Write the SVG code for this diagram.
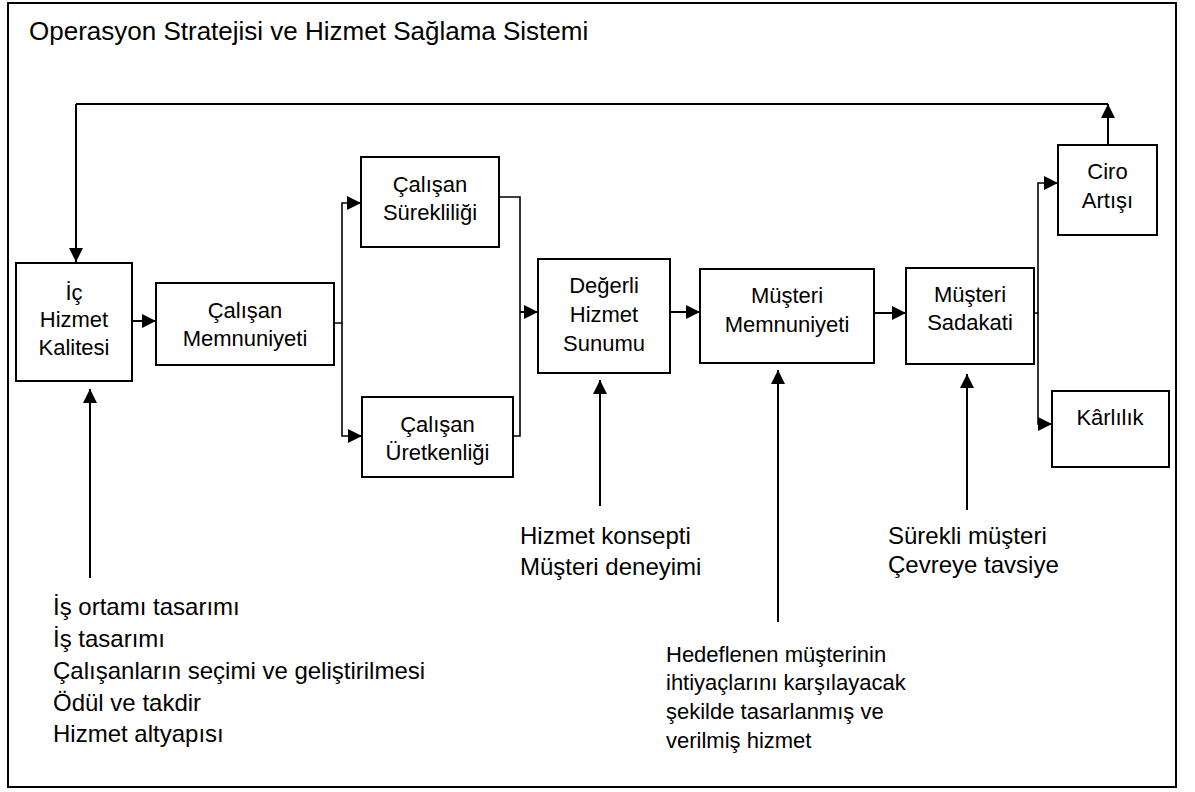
<svg xmlns="http://www.w3.org/2000/svg" width="1195" height="792" viewBox="0 0 1195 792">
<defs>
<marker id="ah" markerUnits="userSpaceOnUse" markerWidth="16" markerHeight="16" viewBox="0 0 16 16" refX="15" refY="8" orient="auto">
<path d="M1,1 L15,8 L1,15 Z" fill="#000"/>
</marker>
</defs>
<style>
.box{fill:#fff;stroke:#000;stroke-width:2}
.t{font-family:"Liberation Sans",Arial,sans-serif;font-size:22px;fill:#000;text-anchor:middle}
.l{font-family:"Liberation Sans",Arial,sans-serif;font-size:24px;fill:#000}
.s{font-family:"Liberation Sans",Arial,sans-serif;font-size:22px;fill:#000}
.c{fill:none;stroke:#000;stroke-width:2}
.c2{fill:none;stroke:#000;stroke-width:1.6}
.a{marker-end:url(#ah)}
</style>
<rect x="8" y="3" width="1168" height="784" fill="#fff" stroke="#000" stroke-width="2"/>
<text x="29" y="40" font-family="Liberation Sans, Arial, sans-serif" font-size="26">Operasyon Stratejisi ve Hizmet Sağlama Sistemi</text>

<g id="connectors">
<path class="c" d="M76,104 H1108"/>
<path class="c a" d="M1108,145 V104"/>
<path class="c a" d="M76,104 V262"/>
<path class="c a" d="M132,321 H156"/>
<path class="c2 a" d="M334,323 H342 V203 H361"/>
<path class="c2 a" d="M342,323 V436 H362"/>
<path class="c2" d="M499,197 H520 V436 H513"/>
<path class="c a" d="M520,312 H538"/>
<path class="c a" d="M670,312 H700"/>
<path class="c a" d="M874,313 H906"/>
<path class="c2 a" d="M1034,313 H1038 V183 H1058"/>
<path class="c2 a" d="M1038,313 V424 H1052"/>
<path class="c a" d="M90,578 V389"/>
<path class="c a" d="M600,506 V380"/>
<path class="c a" d="M778,622 V370"/>
<path class="c a" d="M967,510 V374"/>
</g>

<g id="ic-hizmet-kalitesi">
<rect class="box" x="16" y="263" width="116" height="118"/>
<text class="t" x="74" y="300">İç</text>
<text class="t" x="74" y="327">Hizmet</text>
<text class="t" x="74" y="355">Kalitesi</text>
</g>
<g id="calisan-memnuniyeti">
<rect class="box" x="156" y="283" width="178" height="82"/>
<text class="t" x="245" y="318">Çalışan</text>
<text class="t" x="245" y="346">Memnuniyeti</text>
</g>
<g id="calisan-surekliligi">
<rect class="box" x="361" y="157" width="138" height="90"/>
<text class="t" x="430" y="192">Çalışan</text>
<text class="t" x="430" y="220">Sürekliliği</text>
</g>
<g id="calisan-uretkenligi">
<rect class="box" x="362" y="397" width="151" height="80"/>
<text class="t" x="437.5" y="432">Çalışan</text>
<text class="t" x="437.5" y="460">Üretkenliği</text>
</g>
<g id="degerli-hizmet-sunumu">
<rect class="box" x="538" y="259" width="132" height="114"/>
<text class="t" x="604" y="293">Değerli</text>
<text class="t" x="604" y="322">Hizmet</text>
<text class="t" x="604" y="351">Sunumu</text>
</g>
<g id="musteri-memnuniyeti">
<rect class="box" x="700" y="269" width="174" height="94"/>
<text class="t" x="787" y="303">Müşteri</text>
<text class="t" x="787" y="332">Memnuniyeti</text>
</g>
<g id="musteri-sadakati">
<rect class="box" x="906" y="268" width="128" height="96"/>
<text class="t" x="970" y="302">Müşteri</text>
<text class="t" x="970" y="330">Sadakati</text>
</g>
<g id="ciro-artisi">
<rect class="box" x="1058" y="145" width="99" height="90"/>
<text class="t" x="1107.5" y="179">Ciro</text>
<text class="t" x="1107.5" y="208">Artışı</text>
</g>
<g id="karlilik">
<rect class="box" x="1052" y="391" width="117" height="76"/>
<text class="t" x="1110" y="425">Kârlılık</text>
</g>

<g id="ic-girdiler">
<text class="l" x="53" y="615">İş ortamı tasarımı</text>
<text class="l" x="53" y="647">İş tasarımı</text>
<text class="l" x="53" y="679">Çalışanların seçimi ve geliştirilmesi</text>
<text class="l" x="53" y="711">Ödül ve takdir</text>
<text class="l" x="53" y="742">Hizmet altyapısı</text>
</g>
<g id="hizmet-konsepti">
<text class="l" x="520" y="544">Hizmet konsepti</text>
<text class="l" x="520" y="575">Müşteri deneyimi</text>
</g>
<g id="hedeflenen">
<text class="s" x="666" y="662">Hedeflenen müşterinin</text>
<text class="s" x="666" y="690">ihtiyaçlarını karşılayacak</text>
<text class="s" x="666" y="719">şekilde tasarlanmış ve</text>
<text class="s" x="666" y="748">verilmiş hizmet</text>
</g>
<g id="surekli-musteri">
<text class="l" x="888" y="544">Sürekli müşteri</text>
<text class="l" x="888" y="573">Çevreye tavsiye</text>
</g>
</svg>
